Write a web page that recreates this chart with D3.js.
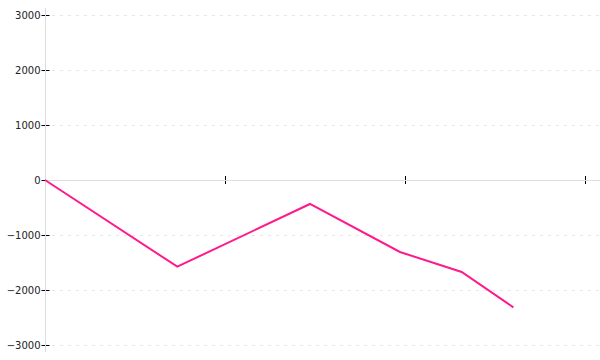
<!DOCTYPE html>
<html>
<head>
<meta charset="utf-8">
<script src="https://cdn.jsdelivr.net/npm/d3@7"></script>
<style>
  body { margin: 0; background: #fff; }
  text { font-family: "DejaVu Sans", sans-serif; font-size: 10px; fill: #222; }
</style>
</head>
<body>
<div id="chart"></div>
<script>
// data
let xValues = [0, 0.735, 1.472, 1.972, 2.315, 2.602];
let yValues = [0, -1576, -436, -1309, -1673, -2315];
let yTicks = [3000, 2000, 1000, 0, -1000, -2000, -3000];
let xTicks = [0, 1, 2, 3];

let width = 600, height = 360;
let margin = {left: 45, right: 15, top: 15, bottom: 15};

let svg = d3.select("#chart")
  .append("svg")
  .attr("width", width)
  .attr("height", height);

let x = d3.scaleLinear().domain([0, 3]).range([margin.left, width - margin.right]);
let y = d3.scaleLinear().domain([-3000, 3000]).range([height - margin.bottom, margin.top]);

// dashed grid lines
svg.append("g")
  .selectAll("line")
  .data(yTicks.filter(d => d !== 0))
  .enter()
  .append("line")
  .attr("x1", margin.left + 7)
  .attr("x2", width)
  .attr("y1", d => Math.round(y(d)) + 0.5)
  .attr("y2", d => Math.round(y(d)) + 0.5)
  .attr("stroke", "#e6e6e6")
  .attr("stroke-dasharray", "3,5");

// y ticks and labels
let yAxis = svg.append("g")
  .attr("transform", "translate(" + (margin.left + 0.5) + ",0)")
  .call(d3.axisLeft(y).tickValues(yTicks).tickFormat(d3.format("d")).tickSize(4).tickPadding(2));
yAxis.select(".domain").remove();
yAxis.selectAll(".tick line").attr("x2", 4).attr("x1", -4).attr("stroke", "#000");
yAxis.selectAll(".tick text").attr("x", -5).style("font-family", "DejaVu Sans, sans-serif").style("font-size", "10px").attr("fill", "#222");

// x ticks (no labels)
svg.append("g")
  .selectAll("line")
  .data(xTicks)
  .enter()
  .append("line")
  .attr("x1", d => Math.round(x(d)) + 0.5)
  .attr("x2", d => Math.round(x(d)) + 0.5)
  .attr("y1", y(0) - 4)
  .attr("y2", y(0) + 4)
  .attr("stroke", "#000");

// axis lines (light grey, drawn over the ticks)
svg.append("line")
  .attr("x1", margin.left + 0.5).attr("x2", margin.left + 0.5)
  .attr("y1", 8).attr("y2", 352)
  .attr("stroke", "#ddd");
svg.append("line")
  .attr("x1", margin.left).attr("x2", width)
  .attr("y1", y(0) + 0.5).attr("y2", y(0) + 0.5)
  .attr("stroke", "#ddd");

// the line itself
let points = xValues.map((d, i) => [d, yValues[i]]);
svg.append("path")
  .datum(points)
  .attr("fill", "none")
  .attr("stroke", "#ff1a8c")
  .attr("stroke-width", 2)
  .attr("d", d3.line().x(d => x(d[0])).y(d => y(d[1])));
</script>
</body>
</html>
